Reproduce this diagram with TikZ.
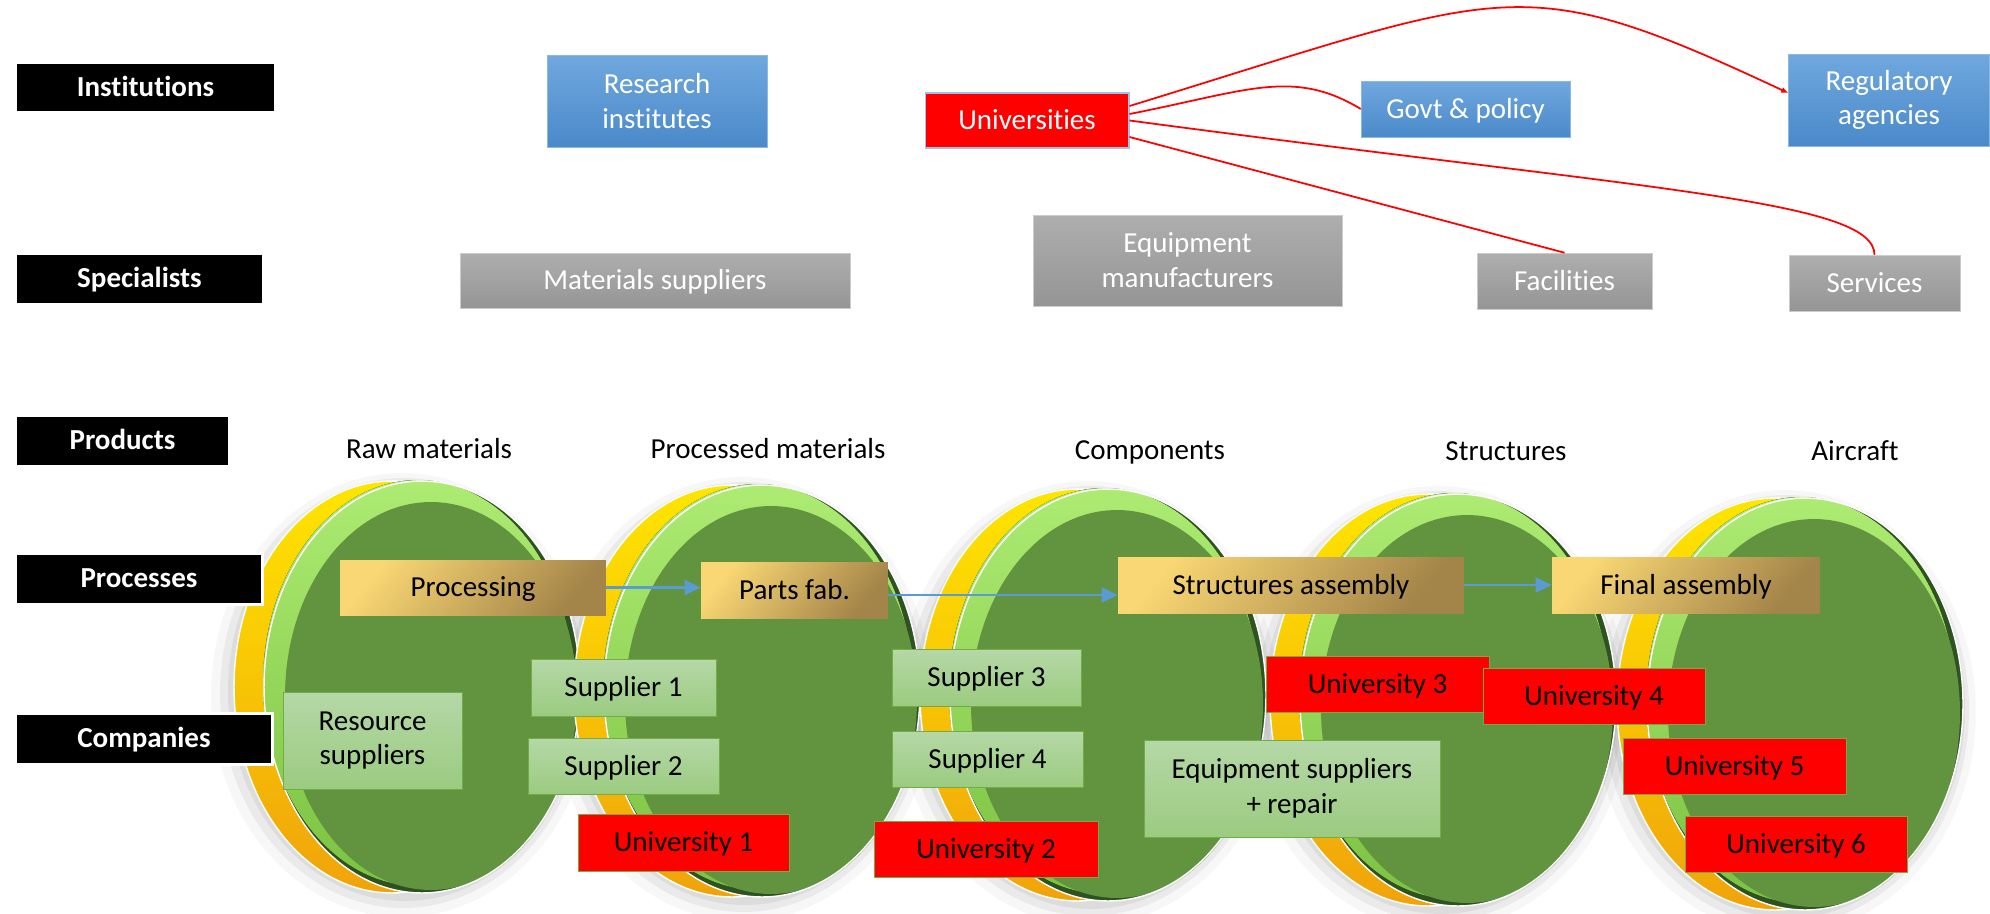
\documentclass[tikz,border=0pt]{standalone}
\usepackage{fontspec}
\setmainfont{Carlito}[Ligatures=NoCommon]
\usepackage{tikz}
\usetikzlibrary{positioning,arrows.meta}

\definecolor{rimtop}{HTML}{FFE500}
\definecolor{rimbot}{HTML}{F0A30A}
\definecolor{ringtop}{HTML}{ADEB72}
\definecolor{ringbot}{HTML}{7CC242}
\definecolor{ringdark}{HTML}{2E5220}
\definecolor{coinface}{HTML}{62933F}
\definecolor{bluetop}{HTML}{70A8DE}
\definecolor{bluebot}{HTML}{4A89CA}
\definecolor{blueline}{HTML}{5B9BD5}
\definecolor{greytop}{HTML}{AEAEAE}
\definecolor{greybot}{HTML}{959595}
\definecolor{goldlight}{HTML}{F9D774}
\definecolor{golddark}{HTML}{A38449}
\definecolor{paletop}{HTML}{B5D8A7}
\definecolor{palebot}{HTML}{9BCB80}
\definecolor{leafline}{HTML}{70AD47}

\begin{document}
\begin{tikzpicture}[x=0.02cm, y=-0.02cm,
	every node/.style={font=\fontsize{16.5}{19.8}\selectfont, inner sep=0pt},
	oneline/.style={text height=10.6pt, text depth=0pt},
	twoline/.style={align=center, text height=, text depth=},
	rowlabel/.style={oneline, fill=black, draw=white, line width=0.06cm, text=white, minimum height=1.02cm, font=\fontsize{16.5}{19.8}\selectfont\bfseries},
	instbox/.style={oneline, top color=bluetop, bottom color=bluebot, draw=blueline!70, line width=0.3pt, text=white},
	unibox/.style={oneline, fill=red, draw=blueline!60, line width=0.6pt, text=white},
	specbox/.style={oneline, top color=greytop, bottom color=greybot, draw=gray!40, line width=0.3pt, text=white},
	prodtitle/.style={anchor=base, text=black},
	procbox/.style={oneline, top color=goldlight, bottom color=golddark, shading angle=50, text=black},
	compbox/.style={oneline, top color=paletop, bottom color=palebot, draw=leafline, line width=0.4pt, text=black},
	redbox/.style={oneline, fill=red, draw=leafline, line width=0.4pt, text=black},
	redlink/.style={draw=red, line width=1pt},
	flow/.style={draw=blueline, line width=1.3pt, -{Triangle[length=0.32cm, width=0.3cm]}}]

	\fill[white] (0,0) rectangle (1990,913);
	\useasboundingbox (0,0) rectangle (1990,913);

	\foreach \cx/\cy in {422/687, 762/691, 1108/695, 1458/700, 1805/704} {
		\fill[black, opacity=0.03] (\cx-20,\cy+8) ellipse [x radius=3.82cm, y radius=4.44cm];
		\fill[black, opacity=0.05] (\cx-19,\cy+6) ellipse [x radius=3.66cm, y radius=4.30cm];
		\fill[black, opacity=0.06] (\cx-17,\cy+4) ellipse [x radius=3.54cm, y radius=4.20cm];
	}
	\foreach \cx/\cy in {422/687, 762/691, 1108/695, 1458/700, 1805/704} {
		\path[top color=rimtop, bottom color=rimbot, draw=white, line width=0.8pt] (\cx-30,\cy) ellipse [x radius=3.16cm, y radius=4.12cm];
		\fill[ringdark] (\cx,\cy) ellipse [x radius=3.16cm, y radius=4.12cm];
		\fill[top color=ringtop, bottom color=ringbot] (\cx-4,\cy-4) ellipse [x radius=3.10cm, y radius=4.06cm];
		\fill[coinface] (\cx+9,\cy+9) ellipse [x radius=2.92cm, y radius=3.88cm];
		\draw[white, line width=0.8pt] (\cx,\cy) ellipse [x radius=3.16cm, y radius=4.12cm];
	}

	\node[rowlabel, minimum width=5.22cm] (inst) at (145.5,87.5) {Institutions};
	\node[rowlabel, minimum width=4.98cm] (spec) at (139.5,278.5) {Specialists};
	\node[rowlabel, minimum width=4.30cm] (prod) at (122.5,440.5) {Products};
	\node[rowlabel, minimum width=4.96cm] (proc) at (139,578.5) {Processes};
	\node[rowlabel, minimum width=5.16cm] (comp) at (144,738.5) {Companies};

	\node[instbox, twoline, minimum width=4.4cm, minimum height=1.84cm] (research) at (657,101) {Research\\institutes};
	\node[unibox, minimum width=4.08cm, minimum height=1.1cm] (univ) at (1027,120.5) {Universities};
	\node[instbox, minimum width=4.18cm, minimum height=1.12cm] (govt) at (1465.5,109) {Govt \& policy};
	\node[instbox, twoline, minimum width=4.02cm, minimum height=1.84cm] (reg) at (1889,100) {Regulatory\\agencies};

	\node[specbox, minimum width=7.8cm, minimum height=1.1cm] (matsup) at (655,280.5) {Materials suppliers};
	\node[specbox, twoline, minimum width=6.18cm, minimum height=1.82cm] (equip) at (1187.5,260.5) {Equipment\\manufacturers};
	\node[specbox, minimum width=3.5cm, minimum height=1.12cm] (fac) at (1564.5,281) {Facilities};
	\node[specbox, minimum width=3.42cm, minimum height=1.12cm] (serv) at (1874.5,283) {Services};

	\draw[redlink, -{Latex[length=0.14cm, width=0.12cm]}] ([yshift=0.29cm]univ.east) .. controls (1511,-11) and (1517,-34) .. ([yshift=0.14cm]reg.west);
	\draw[redlink] ([yshift=0.13cm]univ.east) .. controls (1247,91) and (1293,68) .. (govt.west);
	\draw[redlink] (univ.east) .. controls (1650,190) and (1874,200) .. (serv.north);
	\draw[redlink] ([yshift=-0.33cm]univ.east) -- (fac.north);

	\node[prodtitle] (rawmat) at (429,458) {Raw materials};
	\node[prodtitle] (procmat) at (768,458) {Processed materials};
	\node[prodtitle] (compon) at (1150,459) {Components};
	\node[prodtitle] (structs) at (1506,460) {Structures};
	\node[prodtitle] (aircraft) at (1855,460) {Aircraft};

	\node[procbox, minimum width=5.32cm, minimum height=1.1cm] (processing) at (473,587.5) {Processing};
	\node[procbox, minimum width=3.74cm, minimum height=1.12cm] (partsfab) at (794.5,590) {Parts fab.};
	\node[procbox, minimum width=6.92cm, minimum height=1.12cm] (structasm) at (1291,585) {Structures assembly};
	\node[procbox, minimum width=5.36cm, minimum height=1.12cm] (finalasm) at (1686,585) {Final assembly};

	\draw[flow] (processing.east) -- (processing.east -| partsfab.west);
	\draw[flow] ([yshift=-0.1cm]partsfab.east) -- ([yshift=-0.1cm]partsfab.east -| structasm.west);
	\draw[flow] (structasm.east) -- (finalasm.west);

	\node[compbox, twoline, minimum width=3.58cm, minimum height=1.94cm] (ressup) at (372.5,740.5) {Resource\\suppliers};
	\node[compbox, minimum width=3.7cm, minimum height=1.14cm] (sup1) at (623.5,687.5) {Supplier 1};
	\node[compbox, minimum width=3.82cm, minimum height=1.12cm] (sup2) at (623.5,766) {Supplier 2};
	\node[compbox, minimum width=3.78cm, minimum height=1.14cm] (sup3) at (986.5,677.5) {Supplier 3};
	\node[compbox, minimum width=3.82cm, minimum height=1.12cm] (sup4) at (987.5,759) {Supplier 4};
	\node[compbox, twoline, minimum width=5.92cm, minimum height=1.94cm] (eqsup) at (1292,788.5) {Equipment suppliers\\+ repair};

	\node[redbox, minimum width=4.22cm, minimum height=1.14cm] (uni1) at (683.5,842.5) {University 1};
	\node[redbox, minimum width=4.48cm, minimum height=1.12cm] (uni2) at (986,849) {University 2};
	\node[redbox, minimum width=4.46cm, minimum height=1.12cm] (uni3) at (1377.5,684) {University 3};
	\node[redbox, minimum width=4.44cm, minimum height=1.12cm] (uni4) at (1594,696) {University 4};
	\node[redbox, minimum width=4.46cm, minimum height=1.12cm] (uni5) at (1734.5,766) {University 5};
	\node[redbox, minimum width=4.44cm, minimum height=1.12cm] (uni6) at (1796,844) {University 6};
\end{tikzpicture}
\end{document}
